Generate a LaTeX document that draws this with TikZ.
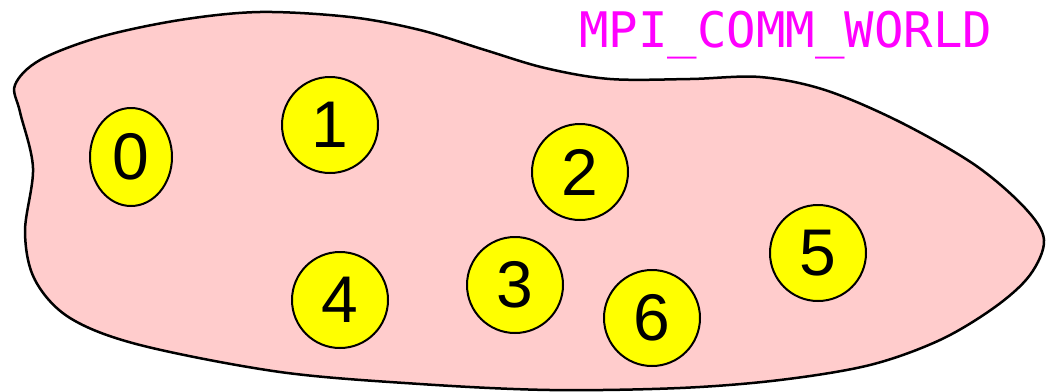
\documentclass[tikz,border=0pt]{standalone}
\usepackage{fontspec}
\setmainfont{Liberation Sans}
\newfontfamily\commfont{DejaVu Sans Mono}
\usetikzlibrary{shapes.geometric}
\definecolor{blobpink}{RGB}{255,204,204}
\definecolor{rankyellow}{RGB}{255,255,0}
\definecolor{commmagenta}{RGB}{255,0,255}
\tikzset{%
  rank/.style={draw, circle, minimum size=96pt, inner sep=0pt, fill=rankyellow,
    line width=2pt, font=\fontsize{66}{70}\selectfont},
  oval rank/.style={rank, ellipse, minimum width=82pt, minimum height=98pt},
  blob/.style={draw, line width=2.5pt, fill=blobpink},
  comm label/.style={text=commmagenta, font=\commfont\fontsize{49}{52}\selectfont,
    anchor=base west, inner sep=0pt}
}

\begin{document}
\begin{tikzpicture}[x=1pt, y=-1pt]
  \useasboundingbox (0,0) rectangle (1047,391);

  % the communicator
  \draw[blob] plot[smooth cycle, tension=0.55] coordinates {
    (15,85) (40,60) (100,37) (180,20) (260,12) (350,17) (420,30)
    (485,50) (545,68) (610,79) (690,79) (760,77) (825,90) (900,122)
    (975,165) (1025,208) (1044,240) (1030,275) (995,307) (940,340)
    (870,365) (780,380) (680,388) (550,390) (420,384) (280,372)
    (140,345) (70,318) (35,280) (25,232) (33,168) (20,112)};

  \node[comm label] (world) at (579,47) {MPI\_COMM\_WORLD};

  % processes
  \node[oval rank] (p0) at (131,157) {0};
  \node[rank] (p1) at (330,125) {1};
  \node[rank] (p2) at (580,172) {2};
  \node[rank] (p3) at (515,285) {3};
  \node[rank] (p4) at (340,300) {4};
  \node[rank] (p5) at (818,253) {5};
  \node[rank] (p6) at (652,318) {6};
\end{tikzpicture}
\end{document}
